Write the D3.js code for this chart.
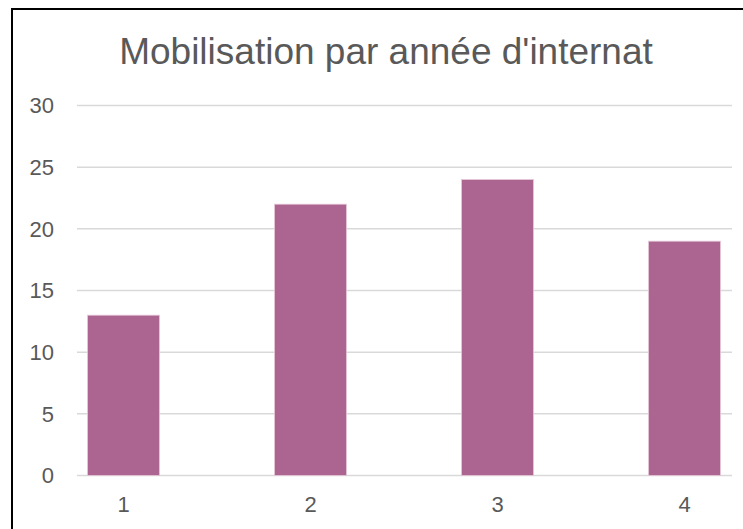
<!DOCTYPE html>
<html>
<head>
<meta charset="utf-8">
<script src="https://cdn.jsdelivr.net/npm/d3@7"></script>
<style>
  body { margin: 0; background: #fff; }
  svg { display: block; font-family: "Liberation Sans", Arial, sans-serif; }
</style>
</head>
<body>
<div id="chart"></div>
<script>
// data
var years = ["1", "2", "3", "4"];
var counts = [13, 22, 24, 19];
var yTicks = [0, 5, 10, 15, 20, 25, 30];
var title = "Mobilisation par année d'internat";

var W = 743, H = 529;

var svg = d3.select("#chart").append("svg")
  .attr("width", W)
  .attr("height", H);

svg.append("rect")
  .attr("width", W).attr("height", H)
  .attr("fill", "#fff");

// outer frame (right and bottom edges are cut off in the picture)
svg.append("rect")
  .attr("x", 12).attr("y", 9)
  .attr("width", W + 10).attr("height", H + 10)
  .attr("fill", "none")
  .attr("stroke", "#000")
  .attr("stroke-width", 2);

var y = d3.scaleLinear().domain([0, 30]).range([475.5, 105.5]);
var x = d3.scaleBand().domain(years)
  .range([30, 778])
  .paddingInner(0.615)
  .paddingOuter(0.3075);

var gridX0 = 77, gridX1 = 732;

// gridlines
svg.append("g")
  .selectAll("line")
  .data(yTicks)
  .enter()
  .append("line")
  .attr("x1", gridX0)
  .attr("x2", gridX1)
  .attr("y1", function(d) { return y(d); })
  .attr("y2", function(d) { return y(d); })
  .attr("stroke", "#d9d9d9")
  .attr("stroke-width", 1.5);

// bars
svg.append("g")
  .selectAll("rect")
  .data(counts)
  .enter()
  .append("rect")
  .attr("x", function(d, i) { return x(years[i]); })
  .attr("y", function(d) { return y(d); })
  .attr("width", x.bandwidth())
  .attr("height", function(d) { return y(0) - y(d); })
  .attr("fill", "#ac6490")
  .attr("stroke", "#e6c9d9")
  .attr("stroke-width", 0.8);

// y labels
svg.append("g")
  .selectAll("text")
  .data(yTicks)
  .enter()
  .append("text")
  .attr("x", 54)
  .attr("y", function(d) { return y(d); })
  .attr("dy", "0.36em")
  .attr("text-anchor", "end")
  .style("font-size", "22px")
  .style("fill", "#595959")
  .text(function(d) { return d; });

// x labels
svg.append("g")
  .selectAll("text")
  .data(years)
  .enter()
  .append("text")
  .attr("x", function(d) { return x(d) + x.bandwidth() / 2; })
  .attr("y", 512)
  .attr("text-anchor", "middle")
  .style("font-size", "22px")
  .style("fill", "#595959")
  .text(function(d) { return d; });

svg.append("text")
  .attr("x", 386)
  .attr("y", 64)
  .attr("text-anchor", "middle")
  .style("font-size", "37px")
  .style("fill", "#595959")
  .text(title);
</script>
</body>
</html>
